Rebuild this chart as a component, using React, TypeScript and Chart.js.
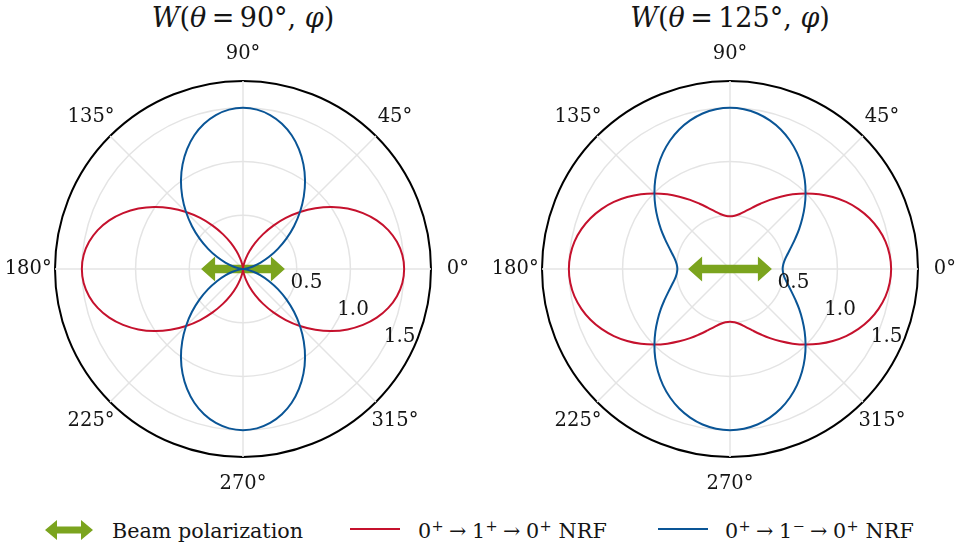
import React, { useEffect, useRef } from 'react';
import { Chart, registerables } from 'chart.js';

Chart.register(...registerables);

// Azimuth angles phi (degrees), 5 degree steps
const PHI_DEG = [
  0, 5, 10, 15, 20, 25, 30, 35, 40, 45, 50, 55, 60, 65, 70, 75, 80, 85,
  90, 95, 100, 105, 110, 115, 120, 125, 130, 135, 140, 145, 150, 155, 160, 165, 170, 175,
  180, 185, 190, 195, 200, 205, 210, 215, 220, 225, 230, 235, 240, 245, 250, 255, 260, 265,
  270, 275, 280, 285, 290, 295, 300, 305, 310, 315, 320, 325, 330, 335, 340, 345, 350, 355,
];

// W(theta = 90deg, phi), 0+ -> 1+ -> 0+
const W90_POS = [
  1.500, 1.489, 1.455, 1.400, 1.325, 1.232, 1.125, 1.007, 0.880, 0.750, 0.620, 0.493, 0.375, 0.268, 0.175, 0.100, 0.045, 0.011,
  0.000, 0.011, 0.045, 0.100, 0.175, 0.268, 0.375, 0.493, 0.620, 0.750, 0.880, 1.007, 1.125, 1.232, 1.325, 1.400, 1.455, 1.489,
  1.500, 1.489, 1.455, 1.400, 1.325, 1.232, 1.125, 1.007, 0.880, 0.750, 0.620, 0.493, 0.375, 0.268, 0.175, 0.100, 0.045, 0.011,
  0.000, 0.011, 0.045, 0.100, 0.175, 0.268, 0.375, 0.493, 0.620, 0.750, 0.880, 1.007, 1.125, 1.232, 1.325, 1.400, 1.455, 1.489,
];
// W(theta = 90deg, phi), 0+ -> 1- -> 0+
const W90_NEG = [
  0.000, 0.011, 0.045, 0.100, 0.175, 0.268, 0.375, 0.493, 0.620, 0.750, 0.880, 1.007, 1.125, 1.232, 1.325, 1.400, 1.455, 1.489,
  1.500, 1.489, 1.455, 1.400, 1.325, 1.232, 1.125, 1.007, 0.880, 0.750, 0.620, 0.493, 0.375, 0.268, 0.175, 0.100, 0.045, 0.011,
  0.000, 0.011, 0.045, 0.100, 0.175, 0.268, 0.375, 0.493, 0.620, 0.750, 0.880, 1.007, 1.125, 1.232, 1.325, 1.400, 1.455, 1.489,
  1.500, 1.489, 1.455, 1.400, 1.325, 1.232, 1.125, 1.007, 0.880, 0.750, 0.620, 0.493, 0.375, 0.268, 0.175, 0.100, 0.045, 0.011,
];
// W(theta = 125deg, phi), 0+ -> 1+ -> 0+
const W125_POS = [
  1.500, 1.492, 1.470, 1.432, 1.382, 1.320, 1.248, 1.168, 1.083, 0.995, 0.907, 0.822, 0.743, 0.670, 0.608, 0.558, 0.520, 0.498,
  0.490, 0.498, 0.520, 0.558, 0.608, 0.670, 0.743, 0.822, 0.907, 0.995, 1.083, 1.168, 1.248, 1.320, 1.382, 1.432, 1.470, 1.492,
  1.500, 1.492, 1.470, 1.432, 1.382, 1.320, 1.248, 1.168, 1.083, 0.995, 0.907, 0.822, 0.743, 0.670, 0.608, 0.558, 0.520, 0.498,
  0.490, 0.498, 0.520, 0.558, 0.608, 0.670, 0.743, 0.822, 0.907, 0.995, 1.083, 1.168, 1.248, 1.320, 1.382, 1.432, 1.470, 1.492,
];
// W(theta = 125deg, phi), 0+ -> 1- -> 0+
const W125_NEG = [
  0.490, 0.498, 0.520, 0.558, 0.608, 0.670, 0.743, 0.822, 0.907, 0.995, 1.083, 1.168, 1.248, 1.320, 1.382, 1.432, 1.470, 1.492,
  1.500, 1.492, 1.470, 1.432, 1.382, 1.320, 1.248, 1.168, 1.083, 0.995, 0.907, 0.822, 0.743, 0.670, 0.608, 0.558, 0.520, 0.498,
  0.490, 0.498, 0.520, 0.558, 0.608, 0.670, 0.743, 0.822, 0.907, 0.995, 1.083, 1.168, 1.248, 1.320, 1.382, 1.432, 1.470, 1.492,
  1.500, 1.492, 1.470, 1.432, 1.382, 1.320, 1.248, 1.168, 1.083, 0.995, 0.907, 0.822, 0.743, 0.670, 0.608, 0.558, 0.520, 0.498,
];

const ANGLE_LABELS = [0, 45, 90, 135, 180, 225, 270, 315];
const RING_VALUES = [0, 0.5, 1.0, 1.5, 1.75];
const TICK_VALUES = [0.5, 1.0, 1.5];
const TICK_TEXT = ['0.5', '1.0', '1.5'];
const TICK_PHI = 330;
const R_MAX = 1.75;
const ANGLE_LABEL_R = 2.0;
const BEAM_HALF = 0.39;

const RED = '#c5112d';
const BLUE = '#0a5596';
const GREEN = '#7ba41e';
const GRID = '#e4e4e4';
const TEXT = '#151515';

// radar labels run clockwise from startAngle; phi runs counter-clockwise
const N = PHI_DEG.length;
const ORDER = PHI_DEG.map((_, i) => (N - i) % N);
const LABELS = ORDER.map((k) => PHI_DEG[k]);
const idxOfPhi = (phi: number) => LABELS.indexOf(phi);

const polarDecor = {
  id: 'polarDecor',
  beforeDatasetsDraw(chart: any) {
    const s = chart.scales.r;
    const ctx = chart.ctx;
    const cx = s.xCenter;
    const cy = s.yCenter;
    const d = s.getDistanceFromCenterForValue(BEAM_HALF);
    const L = cx - d;
    const R = cx + d;
    const hl = 14;
    const hw = 12.5;
    const st = 4.2;
    ctx.save();
    ctx.fillStyle = GREEN;
    ctx.beginPath();
    ctx.moveTo(L, cy);
    ctx.lineTo(L + hl, cy - hw);
    ctx.lineTo(L + hl, cy - st);
    ctx.lineTo(R - hl, cy - st);
    ctx.lineTo(R - hl, cy - hw);
    ctx.lineTo(R, cy);
    ctx.lineTo(R - hl, cy + hw);
    ctx.lineTo(R - hl, cy + st);
    ctx.lineTo(L + hl, cy + st);
    ctx.lineTo(L + hl, cy + hw);
    ctx.closePath();
    ctx.fill();
    ctx.restore();
  },
  afterDraw(chart: any) {
    const s = chart.scales.r;
    const ctx = chart.ctx;
    ctx.save();
    ctx.fillStyle = TEXT;
    ctx.textAlign = 'center';
    ctx.textBaseline = 'middle';
    ctx.font = '19.5px "DejaVu Serif"';
    const dl = s.getDistanceFromCenterForValue(ANGLE_LABEL_R);
    ANGLE_LABELS.forEach((phi) => {
      const p = s.getPointPosition(idxOfPhi(phi), dl);
      ctx.fillText(phi + '°', p.x, p.y);
    });
    ctx.font = '20px "DejaVu Serif"';
    TICK_VALUES.forEach((v, i) => {
      const p = s.getPointPosition(idxOfPhi(TICK_PHI), s.getDistanceFromCenterForValue(v));
      ctx.fillText(TICK_TEXT[i], p.x + 17, p.y - 13);
    });
    ctx.restore();
  },
};

function PolarPanel({ left, pos, neg }: { left: number; pos: number[]; neg: number[] }) {
  const ref = useRef<HTMLCanvasElement | null>(null);
  useEffect(() => {
    const chart = new Chart(ref.current as HTMLCanvasElement, {
      type: 'radar',
      data: {
        labels: LABELS,
        datasets: [
          { label: 'pos', data: ORDER.map((k) => pos[k]), borderColor: RED, order: 2 },
          { label: 'neg', data: ORDER.map((k) => neg[k]), borderColor: BLUE, order: 1 },
        ],
      },
      options: {
        responsive: false,
        animation: false,
        layout: { padding: 52 },
        elements: {
          line: { borderWidth: 2, tension: 0.4, fill: false },
          point: { radius: 0, hitRadius: 0, hoverRadius: 0 },
        },
        plugins: {
          legend: { display: false },
          tooltip: { enabled: false },
          title: { display: false },
        },
        scales: {
          r: {
            min: 0,
            max: R_MAX,
            startAngle: 90,
            ticks: { display: false, stepSize: 0.5 },
            afterBuildTicks: (scale: any) => {
              scale.ticks = RING_VALUES.map((v) => ({ value: v }));
            },
            grid: {
              circular: true,
              color: (c: any) => (c.tick && c.tick.value >= R_MAX ? '#000000' : GRID),
              lineWidth: (c: any) => (c.tick && c.tick.value >= R_MAX ? 2 : 1.5),
            },
            angleLines: {
              display: true,
              color: (c: any) => (Number(c.label) % 45 === 0 ? GRID : 'rgba(0,0,0,0)'),
              lineWidth: 1.5,
            },
            pointLabels: { display: false },
          },
        },
      } as any,
      plugins: [polarDecor],
    });
    return () => chart.destroy();
  }, []);
  return (
    <canvas
      ref={ref}
      width={480}
      height={480}
      style={{ position: 'absolute', left, top: 29, width: 480, height: 480 }}
    />
  );
}

const titleStyle: React.CSSProperties = {
  position: 'absolute',
  top: 4,
  width: 400,
  textAlign: 'center',
  fontSize: 27,
  lineHeight: '27px',
  whiteSpace: 'nowrap',
};

const legendText: React.CSSProperties = {
  position: 'absolute',
  top: 519,
  fontSize: 20.7,
  lineHeight: '24px',
  whiteSpace: 'nowrap',
};

const supStyle: React.CSSProperties = { fontSize: '0.7em', lineHeight: 0, verticalAlign: '0.45em' };

function Transition({ mid }: { mid: string }) {
  return (
    <span style={{ letterSpacing: '0.2px' }}>
      0<sup style={supStyle}>+</sup>{'\u2005→\u2005'}1<sup style={supStyle}>{mid}</sup>
      {'\u2005→\u2005'}0<sup style={supStyle}>+</sup> NRF
    </span>
  );
}

export default function App() {
  return (
    <div
      style={{
        position: 'fixed',
        left: 0,
        top: 0,
        width: 970,
        height: 548,
        background: '#ffffff',
        color: TEXT,
        fontFamily: '"DejaVu Serif", serif',
        overflow: 'hidden',
      }}
    >
      <div style={{ ...titleStyle, left: 243 - 200 }}>
        <i>W</i>(<i>θ</i>{'\u2009=\u2009'}90°, <i>φ</i>)
      </div>
      <div style={{ ...titleStyle, left: 730 - 200 }}>
        <i>W</i>(<i>θ</i>{'\u2009=\u2009'}125°, <i>φ</i>)
      </div>
      <PolarPanel left={3} pos={W90_POS} neg={W90_NEG} />
      <PolarPanel left={490} pos={W125_POS} neg={W125_NEG} />

      <svg style={{ position: 'absolute', left: 45, top: 520 }} width={48} height={20}>
        <polygon points="0,10 12,0 12,6.5 36,6.5 36,0 48,10 36,20 36,13.5 12,13.5 12,20" fill={GREEN} />
      </svg>
      <div style={{ ...legendText, left: 112 }}>Beam polarization</div>

      <div style={{ position: 'absolute', left: 350, top: 528, width: 50, height: 2, background: RED }} />
      <div style={{ ...legendText, left: 418 }}>
        <Transition mid="+" />
      </div>

      <div style={{ position: 'absolute', left: 658, top: 528, width: 50, height: 2, background: BLUE }} />
      <div style={{ ...legendText, left: 725 }}>
        <Transition mid="−" />
      </div>
    </div>
  );
}
